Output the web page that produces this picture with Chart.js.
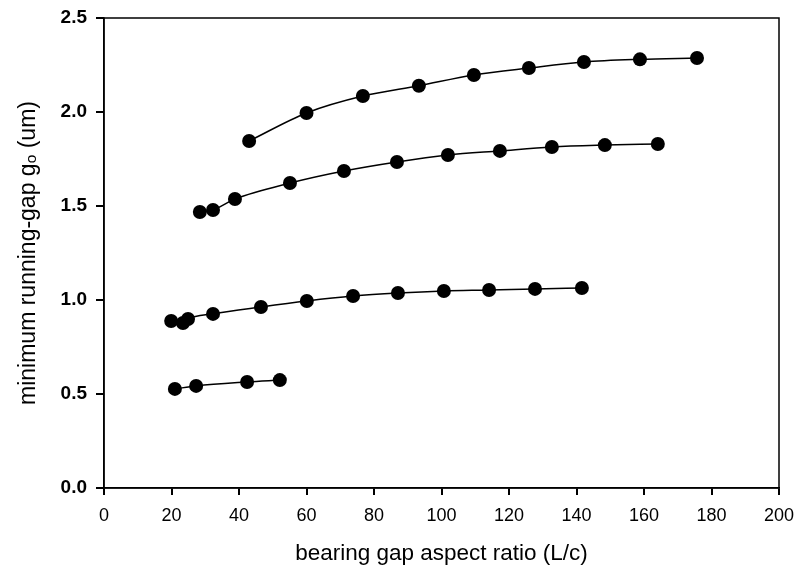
<!DOCTYPE html>
<html lang="en">
<head>
    <meta charset="UTF-8">
    <title>minimum running-gap vs bearing gap aspect ratio</title>
    <style>
        html, body { margin: 0; padding: 0; background: #fff; }
        #wrap { width: 799px; height: 571px; }
    </style>
</head>
<body>
    <div id="wrap"><canvas id="gapChart" width="799" height="571"></canvas></div>
    <script src="https://cdn.jsdelivr.net/npm/chart.js"></script>
    <script>
    // values
    const xTop = [43, 60, 76.7, 93.3, 109.6, 125.9, 142.2, 158.8, 175.7];
    const yTop = [1.846, 1.995, 2.085, 2.14, 2.197, 2.234, 2.266, 2.28, 2.287];

    const xUpper = [28.4, 32.3, 38.8, 55.1, 71.1, 86.8, 101.9, 117.3, 132.7, 148.4, 164.1];
    const yUpper = [1.468, 1.479, 1.537, 1.622, 1.686, 1.734, 1.771, 1.793, 1.814, 1.824, 1.83];

    const xLower = [19.9, 23.4, 24.9, 32.3, 46.5, 60.1, 73.8, 87.1, 100.7, 114.1, 127.7, 141.6];
    const yLower = [0.888, 0.878, 0.899, 0.926, 0.963, 0.995, 1.021, 1.037, 1.048, 1.053, 1.059, 1.064];

    const xBottom = [21.0, 27.3, 42.4, 52.1];
    const yBottom = [0.527, 0.543, 0.564, 0.574];

    const xTicks = [0, 20, 40, 60, 80, 100, 120, 140, 160, 180, 200];
    const yTicks = [0.0, 0.5, 1.0, 1.5, 2.0, 2.5];

    function pts(xs, ys) {
        return xs.map((x, i) => ({ x: x, y: ys[i] }));
    }

    function series(xs, ys) {
        return {
            data: pts(xs, ys),
            borderColor: '#000',
            backgroundColor: '#000',
            borderWidth: 1.5,
            pointRadius: 7,
            pointBorderWidth: 0,
            tension: 0.25,
            cubicInterpolationMode: 'monotone',
            showLine: true
        };
    }

    // box around the plot area
    const frame = {
        id: 'frame',
        afterDraw(chart) {
            const a = chart.chartArea;
            const ctx = chart.ctx;
            ctx.save();
            ctx.strokeStyle = '#000';
            ctx.lineWidth = 1.5;
            ctx.strokeRect(a.left, a.top, a.right - a.left, a.bottom - a.top);
            ctx.restore();
        }
    };

    Chart.defaults.font.family = '"Liberation Sans", Arial, sans-serif';
    Chart.defaults.color = '#000';

    new Chart(document.getElementById('gapChart').getContext('2d'), {
        type: 'scatter',
        data: {
            datasets: [
                series(xTop, yTop),
                series(xUpper, yUpper),
                series(xLower, yLower),
                series(xBottom, yBottom)
            ]
        },
        options: {
            responsive: false,
            animation: false,
            layout: { padding: { left: 0, right: 20, top: 18, bottom: 0 } },
            plugins: { legend: { display: false }, tooltip: { enabled: false } },
            scales: {
                x: {
                    type: 'linear',
                    min: 0, max: 200,
                    afterBuildTicks: s => { s.ticks = xTicks.map(v => ({ value: v })); },
                    afterFit: s => { s.height = 83; s.paddingLeft = 0; s.paddingRight = 0; },
                    grid: { display: true, drawOnChartArea: false, drawTicks: true, tickLength: 7, color: '#000', lineWidth: 2 },
                    border: { display: true, color: '#000', width: 1.5 },
                    ticks: { font: { size: 18 }, padding: 10, maxRotation: 0 },
                    title: { display: true, text: 'bearing gap aspect ratio (L/c)', font: { size: 22.5 }, padding: { top: 8 } }
                },
                y: {
                    type: 'linear',
                    min: 0, max: 2.5,
                    afterBuildTicks: s => { s.ticks = yTicks.map(v => ({ value: v })); },
                    afterFit: s => { s.width = 104; s.paddingTop = 0; s.paddingBottom = 0; },
                    grid: { display: true, drawOnChartArea: false, drawTicks: true, tickLength: 8, color: '#000', lineWidth: 2 },
                    border: { display: true, color: '#000', width: 1.5 },
                    ticks: { font: { size: 19, weight: 'bold' }, padding: 9, callback: v => v.toFixed(1) },
                    title: { display: true, text: 'minimum running-gap g\u2092 (um)', font: { size: 23 }, padding: { top: 15, bottom: 6 } }
                }
            }
        },
        plugins: [frame]
    });
    </script>
</body>
</html>
